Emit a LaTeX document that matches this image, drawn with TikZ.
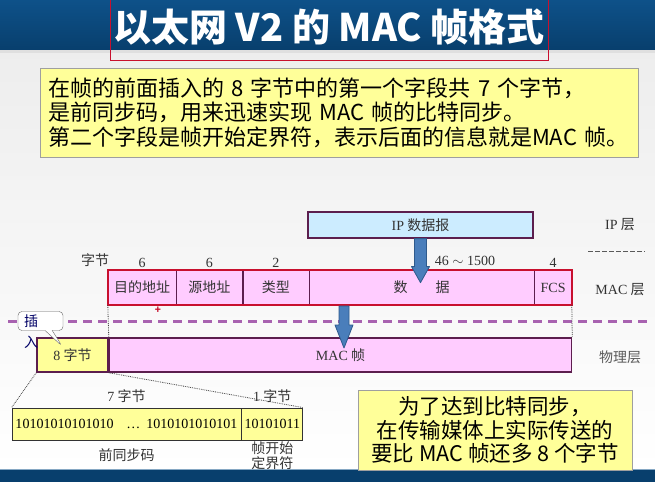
\documentclass[tikz,border=0pt]{standalone}
\usepackage{fontspec}
\setmainfont{Noto Sans CJK SC}
\newfontfamily\serfont{Liberation Serif}
\usepackage{tikz}
\usetikzlibrary{calc,positioning,shapes.callouts}
\definecolor{bandc}{HTML}{0E5189}
\definecolor{bandd}{HTML}{083F6D}
\definecolor{yelc}{HTML}{FFFF99}
\definecolor{pinkc}{HTML}{FFCCFF}
\definecolor{ipc}{HTML}{CCECFF}
\definecolor{framec}{HTML}{5C1E4E}
\definecolor{redc}{HTML}{C8102E}
\definecolor{dashc}{HTML}{A862B0}
\definecolor{arc}{HTML}{4A7EBB}
\definecolor{ard}{HTML}{2F5A8C}
\definecolor{txtc}{HTML}{333333}
\newcommand\lblfont{\fontsize{14}{17}\selectfont}
\newcommand\notefont{\fontsize{22}{24.5}\selectfont}
\tikzset{
  fld/.style={draw=framec,fill=pinkc,minimum height=35,inner sep=0pt,font=\lblfont,text=txtc},
  ybox/.style={draw=gray!75,fill=yelc,inner sep=0pt},
  lbl/.style={font=\lblfont,text=txtc,inner sep=0pt},
  dotl/.style={densely dotted,thick,black!75},
  blkar/.style={fill=arc,draw=ard,line width=0.8pt,line join=round}
}

\begin{document}
\begin{tikzpicture}[x=1pt,y=-1pt]
\useasboundingbox (0,0) rectangle (655,482);
% background
\shade[top color=gray!14,bottom color=white] (0,50) rectangle (655,469);
\shade[top color=bandc,bottom color=bandd] (0,0) rectangle (655,50);
\fill[gray!25] (0,50) rectangle (655,53);
\fill[bandd] (0,469) rectangle (655,482);
\draw[bandc!50!white] (0,469.5) -- (655,469.5);
% title
\node[font=\bfseries\fontsize{38}{38}\selectfont,text=white] (title) at (329,27) {以太网 V2 的 MAC 帧格式};
\draw[redc] (110,-2) rectangle (548,60);
\node[ybox,minimum width=598,minimum height=89,text width=582,align=left,font=\notefont] (note) at (339,112.5)
  {在帧的前面插入的 8 字节中的第一个字段共 7 个字节，\\是前同步码，用来迅速实现 MAC 帧的比特同步。\\第二个字段是帧开始定界符，表示后面的信息就是MAC 帧。};
% IP layer
\node[draw=framec,line width=1.2pt,fill=ipc,minimum width=225,minimum height=26,font=\lblfont,text=txtc] (ip) at (420.5,225) {{\serfont IP} 数据报};
\node[lbl] (iplay) at (620,225) {{\serfont IP} 层};
\draw[gray!70!black,thick,dash pattern=on 5pt off 2pt] (588,251) -- (645,251);
% MAC frame
\node[fld,minimum width=68] (dst) at (142,287.5) {目的地址};
\node[fld,minimum width=66,right=0pt of dst] (src) {源地址};
\node[fld,minimum width=66,right=0pt of src] (typ) {类型};
\node[fld,minimum width=225,right=0pt of typ] (dat) {数\quad\quad 据};
\node[fld,minimum width=37,right=0pt of dat] (fcs) {\serfont FCS};
\draw[redc,line width=2.2pt] (dst.north west) rectangle (fcs.south east);
\node[lbl] (bytes) at (95,260) {字节};
\node[lbl,font=\serfont\lblfont,above=2pt of dst] (n1) {6};
\node[lbl,font=\serfont\lblfont,above=2pt of src] (n2) {6};
\node[lbl,font=\serfont\lblfont,above=2pt of typ] (n3) {2};
\node[lbl,font=\serfont\lblfont] (n4) at (465,261) {46 $\sim$ 1500};
\node[lbl,font=\serfont\lblfont,above=2pt of fcs] (n5) {4};
\node[lbl] (maclay) at (620,290) {{\serfont MAC} 层};
\node[text=redc,font=\bfseries\fontsize{10}{10}\selectfont,inner sep=0pt] (plus) at (158,310) {+};
\draw[blkar] ($(ip.south)+(-6,0)$) -- ++(0,28) -- ++(-3,0) -- ++(9,16) -- ++(9,-16) -- ++(-3,0) -- ++(0,-28) -- cycle;
% layer border
\draw[dashc,line width=3pt,dash pattern=on 9pt off 6pt] (8,321) -- (650,321);
% physical layer
\node[draw=framec,line width=1.5pt,fill=yelc,minimum width=71,minimum height=34,font=\lblfont,text=txtc] (pre8) at (72.5,355) {{\serfont 8} 字节};
\node[draw=framec,line width=1.5pt,fill=pinkc,minimum width=462,minimum height=34,font=\lblfont,text=txtc,right=0pt of pre8] (macf) {{\serfont MAC} 帧};
\node[lbl,text=black!65] (phylay) at (620,357) {物理层};
\coordinate (a2) at (344,306);
\draw[blkar] ($(a2)+(-5,0)$) -- ++(0,19) -- ++(-4,0) -- ++(9,23) -- ++(9,-23) -- ++(-4,0) -- ++(0,-19) -- cycle;
\draw[dotl] (dst.south west) -- (pre8.north east);
\draw[dotl] (fcs.south east) -- (macf.north east);
% insert callout
\node[rectangle callout,draw=gray!80!black,fill=white,rounded corners=4pt,minimum width=45,minimum height=19,
  callout absolute pointer={(62,346)}] (ins) at (40.5,321) {};
\node[lbl,text=black!60!blue,align=left,font=\fontsize{14}{21}\selectfont] (inst) at (31,332) {插\\入};
% preamble detail
\node[draw=black!80,thick,fill=yelc,minimum width=229,minimum height=32,inner sep=0pt,font=\serfont\lblfont] (pre7) at (126.5,424)
  {\hbox to 222pt{10101010101010\hfil\dots\hspace{6pt}1010101010101}};
\node[draw=black!80,thick,fill=yelc,minimum width=61,minimum height=32,inner sep=0pt,font=\serfont\lblfont,right=0pt of pre7] (sfd) {10101011};
\draw[dotl] (pre8.south west) -- (pre7.north west);
\draw[dotl] (pre8.south east) -- (sfd.north east);
\node[lbl,above=5pt of pre7] (n7) {{\serfont 7} 字节};
\node[lbl,above=5pt of sfd] (n1b) {{\serfont 1} 字节};
\node[lbl,below=8pt of pre7] (prename) {前同步码};
\node[lbl,align=center,font=\fontsize{14}{15}\selectfont,below=1pt of sfd] (sfdname) {帧开始\\定界符};
% note on sync
\node[ybox,minimum width=274,minimum height=80,align=center,font=\fontsize{21.5}{23.5}\selectfont] (sync) at (495,430)
  {为了达到比特同步，\\在传输媒体上实际传送的\\要比 MAC 帧还多 8 个字节};
\end{tikzpicture}
\end{document}
